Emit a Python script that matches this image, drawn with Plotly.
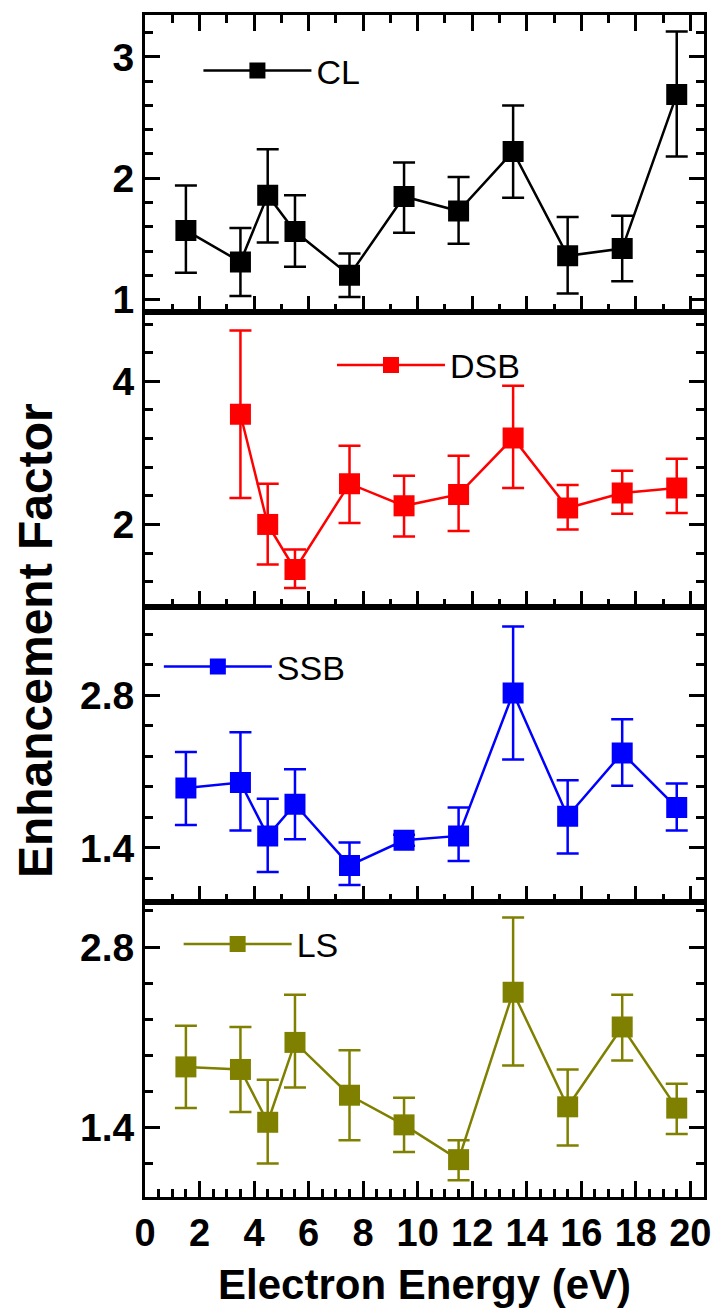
import plotly.graph_objects as go
from plotly.subplots import make_subplots

# ---------------- data ----------------
energy = [1.5, 3.5, 4.5, 5.5, 7.5, 9.5, 11.5, 13.5, 15.5, 17.5, 19.5]
energy_dsb = [3.5, 4.5, 5.5, 7.5, 9.5, 11.5, 13.5, 15.5, 17.5, 19.5]

cl = [1.57, 1.31, 1.86, 1.56, 1.20, 1.85, 1.73, 2.22, 1.36, 1.42, 2.69]
cl_hi = [1.94, 1.59, 2.24, 1.86, 1.38, 2.13, 2.01, 2.60, 1.68, 1.69, 3.21]
cl_lo = [1.22, 1.03, 1.47, 1.27, 1.02, 1.55, 1.46, 1.84, 1.05, 1.15, 2.18]

dsb = [3.54, 2.00, 1.37, 2.57, 2.26, 2.42, 3.21, 2.23, 2.44, 2.51]
dsb_hi = [4.71, 2.57, 1.65, 3.10, 2.68, 2.96, 3.94, 2.55, 2.75, 2.92]
dsb_lo = [2.37, 1.44, 1.11, 2.02, 1.83, 1.91, 2.51, 1.93, 2.15, 2.16]

ssb = [1.95, 2.00, 1.51, 1.80, 1.24, 1.47, 1.51, 2.82, 1.69, 2.27, 1.77]
ssb_hi = [2.28, 2.46, 1.85, 2.12, 1.45, 1.52, 1.77, 3.43, 2.02, 2.58, 1.99]
ssb_lo = [1.61, 1.56, 1.18, 1.48, 1.06, 1.42, 1.28, 2.21, 1.35, 1.97, 1.56]

ls = [1.87, 1.85, 1.44, 2.06, 1.65, 1.42, 1.15, 2.45, 1.56, 2.18, 1.55]
ls_hi = [2.19, 2.18, 1.77, 2.43, 2.00, 1.63, 1.30, 3.03, 1.85, 2.43, 1.74]
ls_lo = [1.55, 1.52, 1.12, 1.71, 1.30, 1.21, 0.99, 1.88, 1.26, 1.92, 1.35]

series_names = ["CL", "DSB", "SSB", "LS"]
series_colors = ["#000000", "#ff0000", "#0000ff", "#808000"]

x_title = "Electron Energy (eV)"
y_title = "Enhancement Factor"

# ---------------- figure ----------------
W, H = 723, 1314
ML, MR, MT, MB = 145, 13, 13, 117
PW = W - ML - MR
PH = H - MT - MB

fig = make_subplots(rows=4, cols=1, shared_xaxes=True, vertical_spacing=0)

series = [
    (energy, cl, cl_hi, cl_lo),
    (energy_dsb, dsb, dsb_hi, dsb_lo),
    (energy, ssb, ssb_hi, ssb_lo),
    (energy, ls, ls_hi, ls_lo),
]

legend_keys = ["legend", "legend2", "legend3", "legend4"]

for i, ((xs, ys, hi, lo), name, col) in enumerate(zip(series, series_names, series_colors)):
    plus = [h - v for h, v in zip(hi, ys)]
    minus = [v - l for v, l in zip(ys, lo)]
    fig.add_trace(
        go.Scatter(
            x=xs, y=ys, name=name, mode="lines+markers",
            line=dict(color=col, width=2.5),
            marker=dict(symbol="square", size=21, color=col),
            error_y=dict(type="data", symmetric=False, array=plus, arrayminus=minus,
                         color=col, thickness=2.5, width=11),
            legend=legend_keys[i],
            showlegend=True,
        ),
        row=i + 1, col=1,
    )

# panel pixel edges (top of plot area = 13)
edges = [13, 311, 606, 902, 1197]
def py(p):
    return (MT + PH - p) / PH

FONT = "Liberation Sans, Arial, sans-serif"
xtickfont = dict(family=FONT, size=38, color="black", weight="bold")
ytickfont = dict(family=FONT, size=39, color="black", weight="bold")

yranges = [[0.893, 3.346], [0.846, 4.963], [0.9, 3.608], [0.86, 3.146]]
ydticks = [1, 2, 1.4, 1.4]
yminor = [0.2, 0.4, 0.28, 0.28]

for i in range(4):
    ykey = "yaxis" if i == 0 else f"yaxis{i+1}"
    xkey = "xaxis" if i == 0 else f"xaxis{i+1}"
    dom = [py(edges[i + 1]), py(edges[i])]
    fig.layout[ykey].update(
        domain=dom, range=yranges[i], tickmode="linear", tick0=0, dtick=ydticks[i],
        ticks="inside", ticklen=15, tickwidth=2.5, tickcolor="black",
        showline=True, linewidth=3, linecolor="black", mirror="ticks",
        showgrid=False, zeroline=False, tickfont=ytickfont,
        minor=dict(tick0=0, dtick=yminor[i], ticks="inside", ticklen=8,
                   tickwidth=2.5, tickcolor="black", showgrid=False),
    )
    last = i == 3
    fig.layout[xkey].update(
        range=[0, 20.5], tickmode="linear", tick0=0, dtick=2,
        ticks="inside", ticklen=16, tickwidth=2.5, tickcolor="black",
        showline=True, linewidth=3, linecolor="black",
        mirror="ticks" if i == 0 else True,
        showgrid=False, zeroline=False, tickfont=xtickfont,
        showticklabels=last,
        minor=dict(tick0=0, dtick=0.5 if last else 1, ticks="inside", ticklen=8,
                   tickwidth=2.5, tickcolor="black", showgrid=False),
    )

# legends, one per panel: (symbol-left px, center-y px)
leg_pos = [(205, 69), (340, 364), (165, 666), (185, 944)]
for i, (lx, ly) in enumerate(leg_pos):
    fig.layout[legend_keys[i]] = dict(
        x=(lx - 6 - ML) / PW, y=py(ly), xanchor="left", yanchor="middle",
        xref="paper", yref="paper",
        bgcolor="rgba(0,0,0,0)", borderwidth=0,
        font=dict(family=FONT, size=34, color="black"),
        itemsizing="trace", itemwidth=108,
    )

fig.add_annotation(
    text=y_title, xref="paper", yref="paper", x=(35 - ML) / PW, y=py(640),
    xanchor="center", yanchor="middle", textangle=-90, showarrow=False,
    font=dict(family=FONT, size=48, color="black", weight="bold"),
)
fig.add_annotation(
    text=x_title, xref="paper", yref="paper", x=0.5, y=py(1285),
    xanchor="center", yanchor="middle", showarrow=False,
    font=dict(family=FONT, size=42, color="black", weight="bold"),
)

fig.update_layout(
    width=W, height=H, margin=dict(l=ML, r=MR, t=MT, b=MB, pad=0),
    paper_bgcolor="white", plot_bgcolor="white",
)

fig.write_html(
    "out.html",
    config={"displayModeBar": False},
    post_script="document.documentElement.style.margin='0';document.body.style.margin='0';",
)
